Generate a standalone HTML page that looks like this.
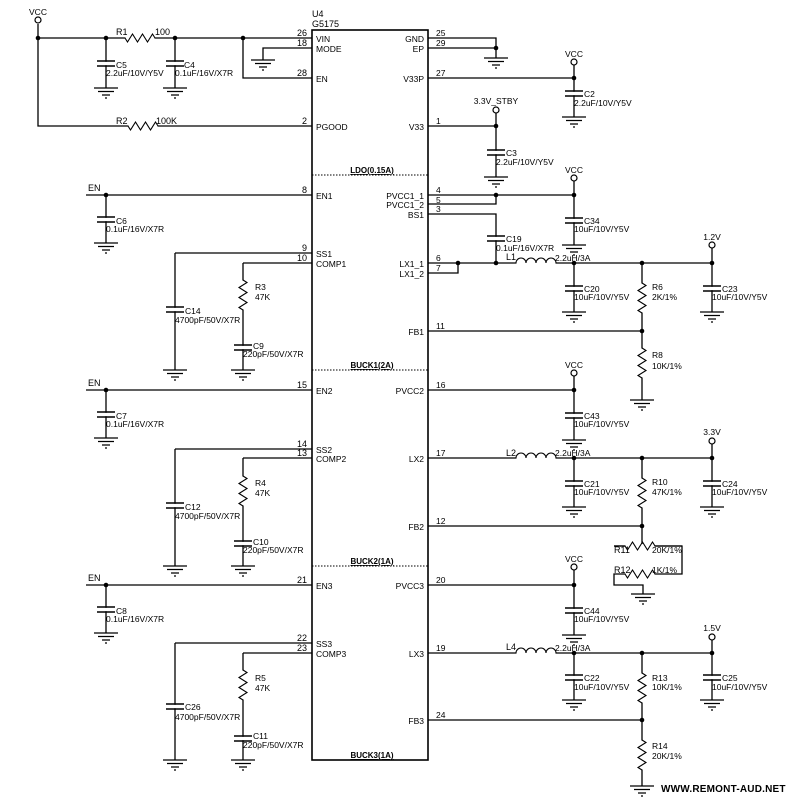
<!DOCTYPE html>
<html><head><meta charset="utf-8"><style>
html,body{margin:0;padding:0;background:#fff}
svg{display:block}
text{font-family:"Liberation Sans",Arial,sans-serif;font-size:8.5px;fill:#000}
.p{font-size:10px}
.n{font-size:9px;text-anchor:end}
.r{font-size:9px}
.b{font-size:8px;font-weight:bold;text-decoration:underline;text-anchor:middle}
.m{text-anchor:middle}
.e{text-anchor:end}
.w{fill:none;stroke:#000;stroke-width:1.3}
.d{stroke:#000;stroke-width:1;stroke-dasharray:1.5 1.5;fill:none}
</style></head><body>
<svg width="789" height="800" viewBox="0 0 789 800" xmlns="http://www.w3.org/2000/svg">
<defs>
<g id="g"><path d="M-12 0h24M-8 3.5h16M-4 7h8M-1 10h2" stroke="#000" stroke-width="1.2" fill="none"/></g>
<g id="c"><rect x="-3" y="0.8" width="6" height="3.4" fill="#fff"/><path d="M-9 0h18M-9 5h18" stroke="#000" stroke-width="1.6"/></g>
<g id="rv"><rect x="-2" y="0.5" width="4" height="29" fill="#fff"/><path d="M0 0l4 2.5l-8 5l8 5l-8 5l8 5l-8 5l4 2.5" stroke="#000" stroke-width="1.1" fill="none"/></g>
<g id="rh"><rect x="0.5" y="-2" width="29" height="4" fill="#fff"/><path d="M0 0l2.5 4l5 -8l5 8l5 -8l5 8l5 -8l2.5 4" stroke="#000" stroke-width="1.1" fill="none"/></g>
<g id="l"><rect x="0.5" y="-2" width="39" height="4" fill="#fff"/><path d="M0 0a5 5 0 0 1 10 0a5 5 0 0 1 10 0a5 5 0 0 1 10 0a5 5 0 0 1 10 0" stroke="#000" stroke-width="1.1" fill="none"/></g>
</defs>

<!-- chip -->
<rect x="312" y="30" width="116" height="730" fill="none" stroke="#000" stroke-width="1.6"/>
<text x="312" y="17" class="r">U4</text><text x="312" y="27" class="r">G5175</text>
<path class="d" d="M312 175H428M312 370H428M312 566H428"/>
<text x="372" y="173" class="b">LDO(0.15A)</text>
<text x="372" y="368" class="b">BUCK1(2A)</text>
<text x="372" y="564" class="b">BUCK2(1A)</text>
<text x="372" y="758" class="b">BUCK3(1A)</text>

<!-- left pin names -->
<g class="p">
<text x="316" y="42">VIN</text><text x="316" y="52">MODE</text><text x="316" y="82">EN</text>
<text x="316" y="130">PGOOD</text><text x="316" y="199">EN1</text>
<text x="316" y="257">SS1</text><text x="316" y="267">COMP1</text><text x="316" y="394">EN2</text>
<text x="316" y="453">SS2</text><text x="316" y="462">COMP2</text><text x="316" y="589">EN3</text>
<text x="316" y="647">SS3</text><text x="316" y="657">COMP3</text>
</g>
<g class="p" text-anchor="end">
<text x="424" y="42">GND</text><text x="424" y="52">EP</text><text x="424" y="82">V33P</text>
<text x="424" y="130">V33</text><text x="424" y="199">PVCC1_1</text><text x="424" y="208">PVCC1_2</text>
<text x="424" y="218">BS1</text><text x="424" y="267">LX1_1</text><text x="424" y="277">LX1_2</text>
<text x="424" y="335">FB1</text><text x="424" y="394">PVCC2</text><text x="424" y="462">LX2</text>
<text x="424" y="530">FB2</text><text x="424" y="589">PVCC3</text><text x="424" y="657">LX3</text>
<text x="424" y="724">FB3</text>
</g>
<!-- pin numbers -->
<g>
<text x="307" y="36" class="n">26</text><text x="307" y="46" class="n">18</text><text x="307" y="76" class="n">28</text>
<text x="307" y="124" class="n">2</text><text x="307" y="193" class="n">8</text><text x="307" y="251" class="n">9</text>
<text x="307" y="261" class="n">10</text><text x="307" y="388" class="n">15</text><text x="307" y="447" class="n">14</text>
<text x="307" y="456" class="n">13</text><text x="307" y="583" class="n">21</text><text x="307" y="641" class="n">22</text>
<text x="307" y="651" class="n">23</text>
</g>
<g class="r">
<text x="436" y="36">25</text><text x="436" y="46">29</text><text x="436" y="76">27</text><text x="436" y="124">1</text>
<text x="436" y="193">4</text><text x="436" y="203">5</text><text x="436" y="212">3</text><text x="436" y="261">6</text>
<text x="436" y="271">7</text><text x="436" y="329">11</text><text x="436" y="388">16</text><text x="436" y="456">17</text>
<text x="436" y="524">12</text><text x="436" y="583">20</text><text x="436" y="651">19</text><text x="436" y="718">24</text>
</g>

<!-- ===== LEFT TOP ===== -->
<path class="w" d="M38 24V126H312M38 38H312M106 38V88M175 38V88M312 48H263V60M243 38V78H312"/>
<circle cx="38" cy="20" r="3" fill="#fff" stroke="#000" stroke-width="1.2"/>
<text x="38" y="15" class="m">VCC</text>
<use href="#rh" x="125" y="38"/><text x="116" y="35" class="r">R1</text><text x="155" y="35" class="r">100</text>
<use href="#rh" x="128" y="126"/><text x="116" y="124" class="r">R2</text><text x="156" y="124" class="r">100K</text>
<use href="#c" x="106" y="61"/><use href="#g" x="106" y="88"/>
<text x="116" y="68">C5</text><text x="106" y="76">2.2uF/10V/Y5V</text>
<use href="#c" x="175" y="61"/><use href="#g" x="175" y="88"/>
<text x="184" y="68">C4</text><text x="175" y="76">0.1uF/16V/X7R</text>
<use href="#g" x="263" y="60"/>
<g fill="#000"><circle cx="38" cy="38" r="2.3"/><circle cx="106" cy="38" r="2.3"/><circle cx="175" cy="38" r="2.3"/><circle cx="243" cy="38" r="2.3"/></g>

<!-- EN1 block -->
<path class="w" d="M86 195H312M106 195V243"/>
<text x="88" y="191" class="r">EN</text><circle cx="106" cy="195" r="2.3"/>
<use href="#c" x="106" y="217"/><use href="#g" x="106" y="243"/>
<text x="116" y="224">C6</text><text x="106" y="232">0.1uF/16V/X7R</text>
<path class="w" d="M175 253H312M175 253V370M243 263H312M243 263V370"/>
<use href="#c" x="175" y="307"/><text x="185" y="314">C14</text><text x="175" y="323">4700pF/50V/X7R</text>
<use href="#rv" x="243" y="280"/><text x="255" y="290">R3</text><text x="255" y="300">47K</text>
<use href="#c" x="243" y="345"/><text x="253" y="349">C9</text><text x="243" y="357">220pF/50V/X7R</text>
<use href="#g" x="175" y="370"/><use href="#g" x="243" y="370"/>

<!-- EN2 block -->
<path class="w" d="M86 390H312M106 390V438"/>
<text x="88" y="386" class="r">EN</text><circle cx="106" cy="390" r="2.3"/>
<use href="#c" x="106" y="412"/><use href="#g" x="106" y="438"/>
<text x="116" y="419">C7</text><text x="106" y="427">0.1uF/16V/X7R</text>
<path class="w" d="M175 449H312M175 449V566M243 458H312M243 458V566"/>
<use href="#c" x="175" y="503"/><text x="185" y="510">C12</text><text x="175" y="519">4700pF/50V/X7R</text>
<use href="#rv" x="243" y="476"/><text x="255" y="486">R4</text><text x="255" y="496">47K</text>
<use href="#c" x="243" y="541"/><text x="253" y="545">C10</text><text x="243" y="553">220pF/50V/X7R</text>
<use href="#g" x="175" y="566"/><use href="#g" x="243" y="566"/>

<!-- EN3 block -->
<path class="w" d="M86 585H312M106 585V633"/>
<text x="88" y="581" class="r">EN</text><circle cx="106" cy="585" r="2.3"/>
<use href="#c" x="106" y="607"/><use href="#g" x="106" y="633"/>
<text x="116" y="614">C8</text><text x="106" y="622">0.1uF/16V/X7R</text>
<path class="w" d="M175 643H312M175 643V760M243 653H312M243 653V760"/>
<use href="#c" x="175" y="704"/><text x="185" y="710">C26</text><text x="175" y="720">4700pF/50V/X7R</text>
<use href="#rv" x="243" y="670"/><text x="255" y="681">R5</text><text x="255" y="691">47K</text>
<use href="#c" x="243" y="736"/><text x="253" y="739">C11</text><text x="243" y="748">220pF/50V/X7R</text>
<use href="#g" x="175" y="760"/><use href="#g" x="243" y="760"/>

<!-- ===== RIGHT ===== -->
<path class="w" d="M428 38H496V58M428 48H496"/>
<use href="#g" x="496" y="58"/><circle cx="496" cy="48" r="2.3"/>
<path class="w" d="M428 78H574M574 65V117"/>
<circle cx="574" cy="62" r="3" fill="#fff" stroke="#000" stroke-width="1.2"/><text x="574" y="57" class="m">VCC</text>
<circle cx="574" cy="78" r="2.3"/>
<use href="#c" x="574" y="91"/><use href="#g" x="574" y="117"/>
<text x="584" y="97">C2</text><text x="574" y="106">2.2uF/10V/Y5V</text>
<path class="w" d="M428 126H496M496 113V177"/>
<circle cx="496" cy="110" r="3" fill="#fff" stroke="#000" stroke-width="1.2"/><text x="496" y="104" class="m">3.3V_STBY</text>
<circle cx="496" cy="126" r="2.3"/>
<use href="#c" x="496" y="150"/><use href="#g" x="496" y="177"/>
<text x="506" y="156">C3</text><text x="496" y="165">2.2uF/10V/Y5V</text>

<path class="w" d="M428 195H574M428 204H496V195M428 214H496V263M574 181V245"/>
<circle cx="496" cy="195" r="2.3"/><circle cx="574" cy="195" r="2.3"/>
<circle cx="574" cy="178" r="3" fill="#fff" stroke="#000" stroke-width="1.2"/><text x="574" y="173" class="m">VCC</text>
<use href="#c" x="574" y="218"/><use href="#g" x="574" y="245"/>
<text x="584" y="224">C34</text><text x="574" y="232">10uF/10V/Y5V</text>
<use href="#c" x="496" y="236"/><text x="506" y="242">C19</text><text x="496" y="251">0.1uF/16V/X7R</text>

<path class="w" d="M428 263H712M428 273H458V263M574 263V312M642 263V400M712 248V312M428 331H642"/>
<use href="#l" x="516" y="263"/><text x="506" y="260" class="r">L1</text><text x="555" y="261">2.2uH/3A</text>
<g fill="#000"><circle cx="458" cy="263" r="2.3"/><circle cx="496" cy="263" r="2.3"/><circle cx="574" cy="263" r="2.3"/><circle cx="642" cy="263" r="2.3"/><circle cx="712" cy="263" r="2.3"/><circle cx="642" cy="331" r="2.3"/></g>
<circle cx="712" cy="245" r="3" fill="#fff" stroke="#000" stroke-width="1.2"/><text x="712" y="240" class="m">1.2V</text>
<use href="#c" x="574" y="286"/><use href="#g" x="574" y="312"/><text x="584" y="292">C20</text><text x="574" y="300">10uF/10V/Y5V</text>
<use href="#rv" x="642" y="283"/><text x="652" y="290">R6</text><text x="652" y="300">2K/1%</text>
<use href="#c" x="712" y="286"/><use href="#g" x="712" y="312"/><text x="722" y="292">C23</text><text x="712" y="300">10uF/10V/Y5V</text>
<use href="#rv" x="642" y="348"/><text x="652" y="358">R8</text><text x="652" y="369">10K/1%</text>
<use href="#g" x="642" y="400"/>

<!-- PVCC2 / LX2 -->
<path class="w" d="M428 390H574M574 376V440"/>
<circle cx="574" cy="373" r="3" fill="#fff" stroke="#000" stroke-width="1.2"/><text x="574" y="368" class="m">VCC</text>
<circle cx="574" cy="390" r="2.3"/>
<use href="#c" x="574" y="413"/><use href="#g" x="574" y="440"/><text x="584" y="419">C43</text><text x="574" y="427">10uF/10V/Y5V</text>

<path class="w" d="M428 458H712M574 458V507M712 444V507M642 458V546H614M642 546H682V574H614V585H643V594M428 526H642"/>
<use href="#l" x="516" y="458"/><text x="506" y="456" class="r">L2</text><text x="555" y="456">2.2uH/3A</text>
<g fill="#000"><circle cx="574" cy="458" r="2.3"/><circle cx="642" cy="458" r="2.3"/><circle cx="712" cy="458" r="2.3"/><circle cx="642" cy="526" r="2.3"/></g>
<circle cx="712" cy="441" r="3" fill="#fff" stroke="#000" stroke-width="1.2"/><text x="712" y="435" class="m">3.3V</text>
<use href="#c" x="574" y="481"/><use href="#g" x="574" y="507"/><text x="584" y="487">C21</text><text x="574" y="495">10uF/10V/Y5V</text>
<use href="#rv" x="642" y="478"/><text x="652" y="485">R10</text><text x="652" y="495">47K/1%</text>
<use href="#c" x="712" y="481"/><use href="#g" x="712" y="507"/><text x="722" y="487">C24</text><text x="712" y="495">10uF/10V/Y5V</text>
<path d="M614 546H682" class="w"/>
<use href="#rh" x="625" y="546"/><use href="#rh" x="625" y="574"/>
<text x="614" y="553" class="r">R11</text><text x="652" y="553">20K/1%</text>
<text x="614" y="573" class="r">R12</text><text x="652" y="573">1K/1%</text>
<use href="#g" x="643" y="594"/>

<!-- PVCC3 / LX3 -->
<path class="w" d="M428 585H574M574 570V635"/>
<circle cx="574" cy="567" r="3" fill="#fff" stroke="#000" stroke-width="1.2"/><text x="574" y="562" class="m">VCC</text>
<circle cx="574" cy="585" r="2.3"/>
<use href="#c" x="574" y="608"/><use href="#g" x="574" y="635"/><text x="584" y="614">C44</text><text x="574" y="622">10uF/10V/Y5V</text>

<path class="w" d="M428 653H712M574 653V700M712 640V700M642 653V786M428 720H642"/>
<use href="#l" x="516" y="653"/><text x="506" y="650" class="r">L4</text><text x="555" y="651">2.2uH/3A</text>
<g fill="#000"><circle cx="574" cy="653" r="2.3"/><circle cx="642" cy="653" r="2.3"/><circle cx="712" cy="653" r="2.3"/><circle cx="642" cy="720" r="2.3"/></g>
<circle cx="712" cy="637" r="3" fill="#fff" stroke="#000" stroke-width="1.2"/><text x="712" y="631" class="m">1.5V</text>
<use href="#c" x="574" y="675"/><use href="#g" x="574" y="700"/><text x="584" y="681">C22</text><text x="574" y="690">10uF/10V/Y5V</text>
<use href="#rv" x="642" y="673"/><text x="652" y="681">R13</text><text x="652" y="690">10K/1%</text>
<use href="#c" x="712" y="675"/><use href="#g" x="712" y="700"/><text x="722" y="681">C25</text><text x="712" y="690">10uF/10V/Y5V</text>
<use href="#rv" x="642" y="740"/><text x="652" y="749">R14</text><text x="652" y="759">20K/1%</text>
<use href="#g" x="642" y="786"/>

<text x="661" y="792" style="font-size:10px;font-weight:bold;letter-spacing:0.2px">WWW.REMONT-AUD.NET</text>
</svg>
</body></html>
